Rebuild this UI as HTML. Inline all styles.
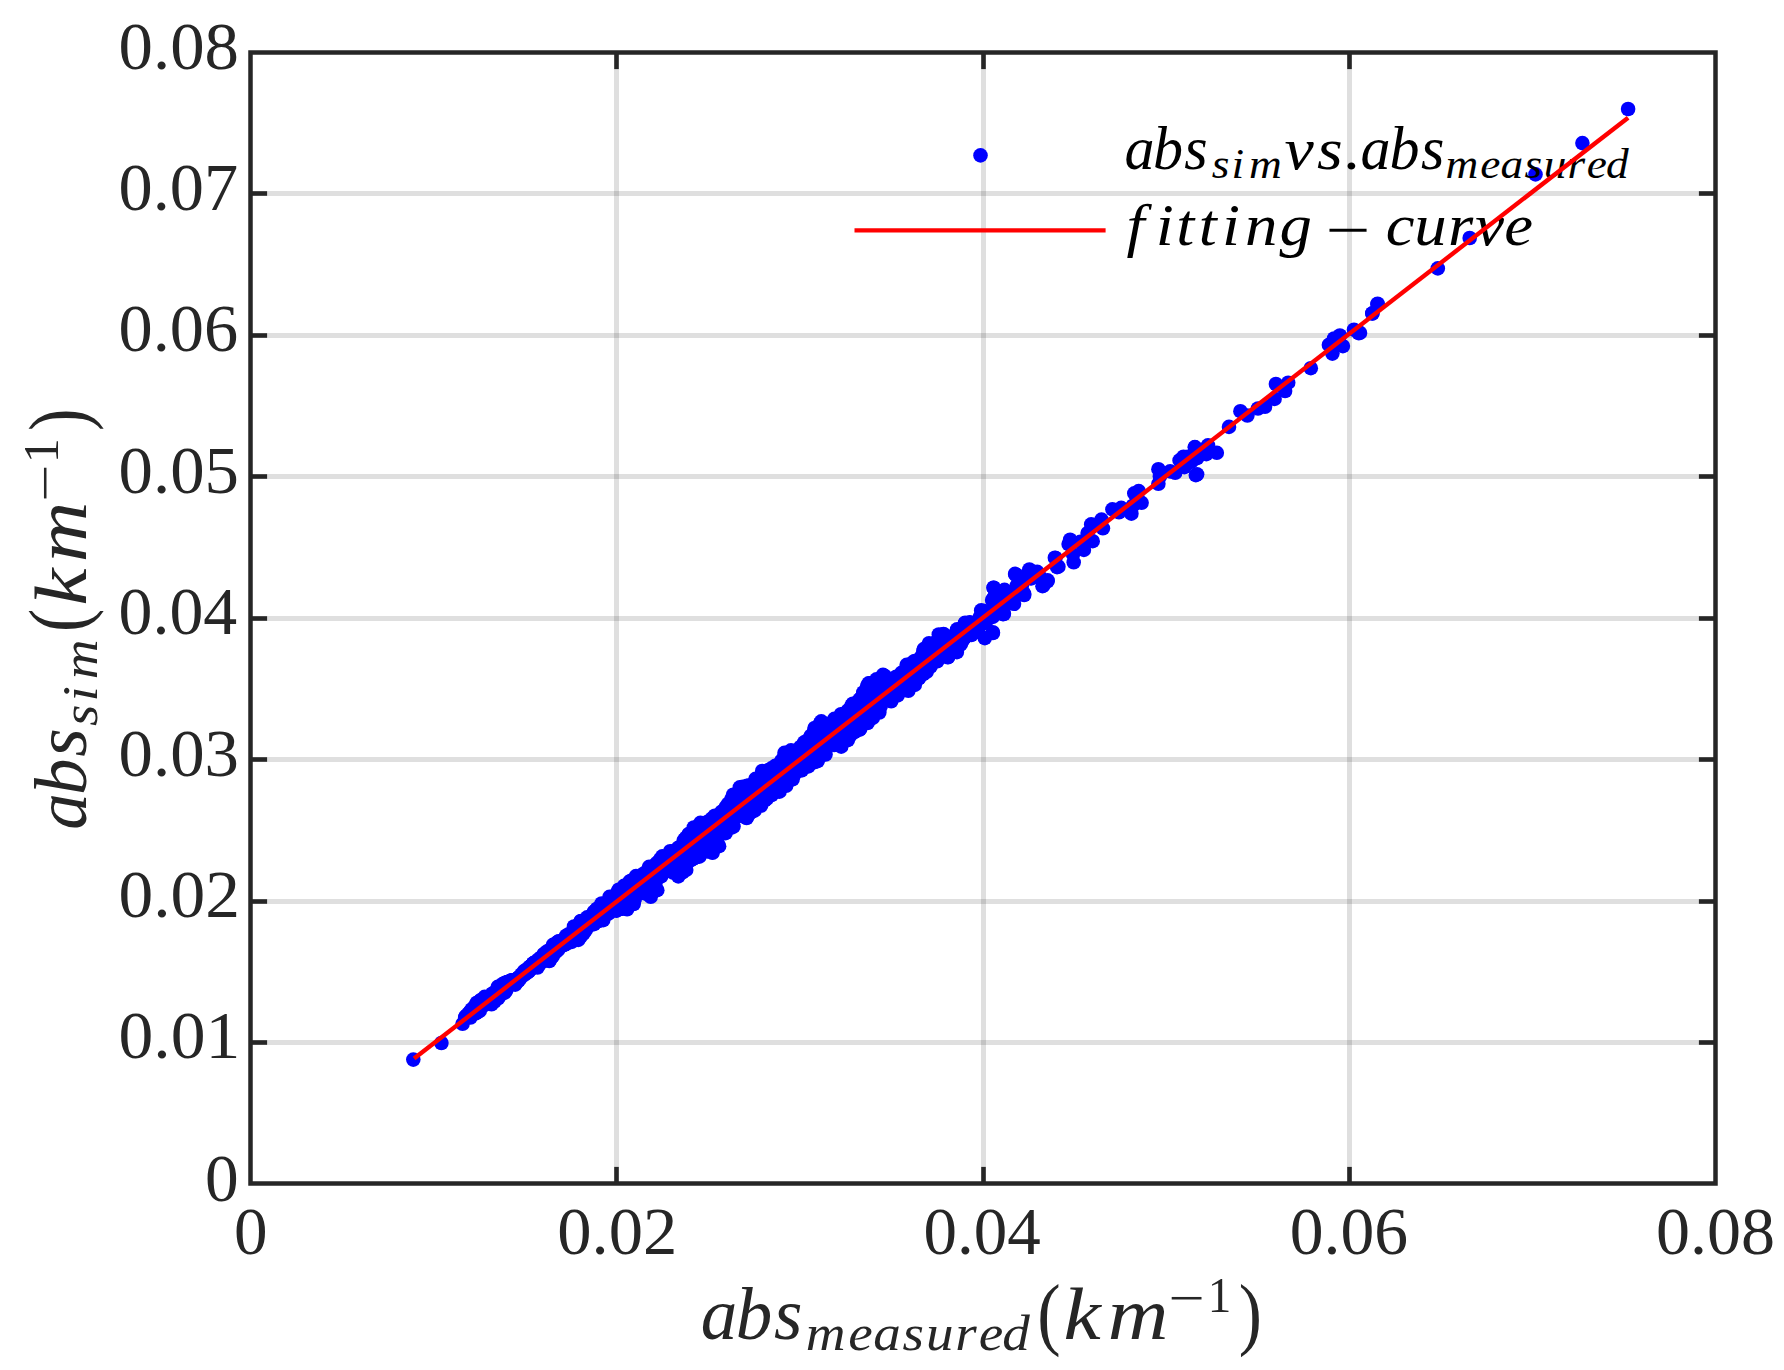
<!DOCTYPE html>
<html lang="en"><head><meta charset="utf-8"><title>abs sim vs. abs measured</title>
<style>html,body{margin:0;padding:0;background:#fff;overflow:hidden}svg{display:block}</style></head>
<body>
<svg width="1784" height="1370" viewBox="0 0 1784 1370" font-family="'Liberation Serif', serif">
<rect width="1784" height="1370" fill="#fff"/>
<g stroke="#262626" stroke-opacity="0.15" stroke-width="5"><line x1="616.5" y1="52.5" x2="616.5" y2="1183.5"/><line x1="983.5" y1="52.5" x2="983.5" y2="1183.5"/><line x1="1349.5" y1="52.5" x2="1349.5" y2="1183.5"/><line x1="250.5" y1="1042.5" x2="1715.5" y2="1042.5"/><line x1="250.5" y1="901.5" x2="1715.5" y2="901.5"/><line x1="250.5" y1="759.5" x2="1715.5" y2="759.5"/><line x1="250.5" y1="618.5" x2="1715.5" y2="618.5"/><line x1="250.5" y1="476.5" x2="1715.5" y2="476.5"/><line x1="250.5" y1="335.5" x2="1715.5" y2="335.5"/><line x1="250.5" y1="193.5" x2="1715.5" y2="193.5"/></g>
<g fill="#0000ff"><circle cx="1002.9" cy="614.2" r="7.3"/><circle cx="1003.6" cy="591.5" r="7.3"/><circle cx="1012.4" cy="603.2" r="7.3"/><circle cx="1016.1" cy="574.7" r="7.3"/><circle cx="1024.1" cy="593.7" r="7.3"/><circle cx="1021.9" cy="585.7" r="7.3"/><circle cx="1029.9" cy="571.8" r="7.3"/><circle cx="1037.2" cy="571.8" r="7.3"/><circle cx="1031.4" cy="578.4" r="7.3"/><circle cx="1043.1" cy="585.7" r="7.3"/><circle cx="1047.4" cy="581.3" r="7.3"/><circle cx="1055.5" cy="558.0" r="7.3"/><circle cx="1058.4" cy="566.7" r="7.3"/><circle cx="1070.1" cy="539.7" r="7.3"/><circle cx="1068.6" cy="544.1" r="7.3"/><circle cx="1073.7" cy="562.3" r="7.3"/><circle cx="1073.0" cy="554.3" r="7.3"/><circle cx="1083.9" cy="549.9" r="7.3"/><circle cx="1087.6" cy="533.1" r="7.3"/><circle cx="1091.2" cy="524.4" r="7.3"/><circle cx="1092.7" cy="541.2" r="7.3"/><circle cx="1080.3" cy="541.9" r="7.3"/><circle cx="1102.9" cy="528.3" r="7.3"/><circle cx="1101.5" cy="519.6" r="7.3"/><circle cx="1112.4" cy="509.3" r="7.3"/><circle cx="1121.2" cy="507.9" r="7.3"/><circle cx="1119.0" cy="512.3" r="7.3"/><circle cx="1131.4" cy="513.7" r="7.3"/><circle cx="1134.3" cy="493.3" r="7.3"/><circle cx="1138.7" cy="491.1" r="7.3"/><circle cx="1141.6" cy="502.8" r="7.3"/><circle cx="1132.8" cy="505.7" r="7.3"/><circle cx="1158.4" cy="469.2" r="7.3"/><circle cx="1158.4" cy="483.8" r="7.3"/><circle cx="1159.9" cy="476.5" r="7.3"/><circle cx="1170.1" cy="471.4" r="7.3"/><circle cx="1175.2" cy="472.8" r="7.3"/><circle cx="1179.6" cy="460.4" r="7.3"/><circle cx="1183.9" cy="465.5" r="7.3"/><circle cx="1187.6" cy="456.8" r="7.3"/><circle cx="1194.9" cy="447.3" r="7.3"/><circle cx="1197.1" cy="474.3" r="7.3"/><circle cx="1197.1" cy="458.2" r="7.3"/><circle cx="1191.2" cy="461.9" r="7.3"/><circle cx="1183.5" cy="456.7" r="7.3"/><circle cx="1184.4" cy="467.2" r="7.3"/><circle cx="1194.9" cy="447.1" r="7.3"/><circle cx="1194.0" cy="457.6" r="7.3"/><circle cx="1208.0" cy="445.3" r="7.3"/><circle cx="1206.3" cy="454.1" r="7.3"/><circle cx="1216.8" cy="452.8" r="7.3"/><circle cx="1195.8" cy="475.1" r="7.3"/><circle cx="1229.0" cy="426.9" r="7.3"/><circle cx="1240.4" cy="411.2" r="7.3"/><circle cx="1247.4" cy="415.5" r="7.3"/><circle cx="1258.0" cy="408.5" r="7.3"/><circle cx="1265.0" cy="406.8" r="7.3"/><circle cx="1274.6" cy="398.9" r="7.3"/><circle cx="1275.9" cy="384.0" r="7.3"/><circle cx="1285.1" cy="391.0" r="7.3"/><circle cx="1288.2" cy="382.7" r="7.3"/><circle cx="1377.6" cy="303.7" r="7.3"/><circle cx="1372.4" cy="313.4" r="7.3"/><circle cx="1354.0" cy="329.7" r="7.3"/><circle cx="1358.6" cy="333.2" r="7.3"/><circle cx="1339.9" cy="335.5" r="7.3"/><circle cx="1334.1" cy="338.5" r="7.3"/><circle cx="1328.9" cy="344.9" r="7.3"/><circle cx="1342.9" cy="346.1" r="7.3"/><circle cx="1332.4" cy="353.6" r="7.3"/><circle cx="1310.8" cy="368.2" r="7.3"/><circle cx="993.6" cy="587.7" r="7.3"/><circle cx="992.1" cy="600.1" r="7.3"/><circle cx="981.9" cy="611.0" r="7.3"/><circle cx="1003.8" cy="592.0" r="7.3"/><circle cx="1000.9" cy="603.0" r="7.3"/><circle cx="1015.5" cy="574.5" r="7.3"/><circle cx="1016.9" cy="585.5" r="7.3"/><circle cx="1028.6" cy="572.3" r="7.3"/><circle cx="1036.6" cy="572.3" r="7.3"/><circle cx="1030.1" cy="578.2" r="7.3"/><circle cx="1023.5" cy="594.2" r="7.3"/><circle cx="1013.3" cy="603.0" r="7.3"/><circle cx="1003.8" cy="613.2" r="7.3"/><circle cx="992.8" cy="616.9" r="7.3"/><circle cx="981.9" cy="621.2" r="7.3"/><circle cx="965.1" cy="623.4" r="7.3"/><circle cx="974.6" cy="624.9" r="7.3"/><circle cx="1042.5" cy="586.2" r="7.3"/><circle cx="1047.6" cy="580.4" r="7.3"/><circle cx="1054.9" cy="557.7" r="7.3"/><circle cx="1057.1" cy="567.2" r="7.3"/><circle cx="992.8" cy="632.2" r="7.3"/><circle cx="1007.4" cy="597.2" r="7.3"/><circle cx="1022.0" cy="582.6" r="7.3"/><circle cx="1011.1" cy="592.8" r="7.3"/><circle cx="996.5" cy="608.8" r="7.3"/><circle cx="1040.3" cy="577.4" r="7.3"/><circle cx="1628.1" cy="109.0" r="7.3"/><circle cx="1582.4" cy="143.1" r="7.3"/><circle cx="1535.5" cy="174.4" r="7.3"/><circle cx="1469.7" cy="238.0" r="7.3"/><circle cx="1437.8" cy="268.4" r="7.3"/><circle cx="1377.5" cy="304.4" r="7.3"/><circle cx="1372.3" cy="313.5" r="7.3"/><circle cx="1360.0" cy="332.9" r="7.3"/><circle cx="413.3" cy="1059.6" r="7.3"/><circle cx="441.4" cy="1043.0" r="7.3"/><circle cx="462.6" cy="1023.8" r="7.3"/><circle cx="938.8" cy="634.5" r="7.3"/><circle cx="1015.1" cy="573.9" r="7.3"/><circle cx="993.6" cy="587.7" r="7.3"/><circle cx="1004.5" cy="589.9" r="7.3"/><circle cx="981.2" cy="610.4" r="7.3"/><circle cx="993.6" cy="598.0" r="7.3"/><circle cx="965.1" cy="622.8" r="7.3"/><circle cx="957.1" cy="629.3" r="7.3"/><circle cx="1003.8" cy="614.0" r="7.3"/><circle cx="992.9" cy="633.0" r="7.3"/><circle cx="984.8" cy="638.1" r="7.3"/><circle cx="1024.2" cy="595.0" r="7.3"/><circle cx="1014.0" cy="603.8" r="7.3"/><circle cx="1029.4" cy="569.5" r="7.3"/><circle cx="1020.6" cy="584.1" r="7.3"/><circle cx="998.7" cy="606.7" r="7.3"/><circle cx="973.9" cy="625.7" r="7.3"/><circle cx="466.3" cy="1015.9" r="7.3"/><circle cx="471.6" cy="1009.3" r="7.3"/><circle cx="476.8" cy="1002.7" r="7.3"/><circle cx="484.7" cy="996.8" r="7.3"/><circle cx="492.6" cy="993.5" r="7.3"/><circle cx="497.8" cy="986.9" r="7.3"/><circle cx="503.1" cy="983.7" r="7.3"/><circle cx="511.0" cy="980.4" r="7.3"/><circle cx="517.5" cy="978.4" r="7.3"/><circle cx="524.1" cy="971.2" r="7.3"/><circle cx="533.3" cy="963.3" r="7.3"/><circle cx="538.6" cy="959.4" r="7.3"/><circle cx="543.8" cy="954.1" r="7.3"/><circle cx="553.0" cy="944.9" r="7.3"/><circle cx="558.3" cy="941.6" r="7.3"/><circle cx="566.2" cy="935.7" r="7.3"/><circle cx="574.0" cy="926.5" r="7.3"/><circle cx="580.6" cy="921.2" r="7.3"/><circle cx="587.2" cy="917.3" r="7.3"/><circle cx="593.8" cy="912.0" r="7.3"/><circle cx="601.6" cy="903.5" r="7.3"/><circle cx="609.5" cy="896.9" r="7.3"/><circle cx="618.7" cy="889.7" r="7.3"/><circle cx="624.0" cy="885.8" r="7.3"/><circle cx="636.0" cy="876.1" r="7.3"/><circle cx="643.9" cy="873.5" r="7.3"/><circle cx="649.1" cy="866.9" r="7.3"/><circle cx="657.0" cy="863.0" r="7.3"/><circle cx="662.3" cy="856.4" r="7.3"/><circle cx="670.2" cy="851.2" r="7.3"/><circle cx="678.1" cy="847.9" r="7.3"/><circle cx="684.6" cy="839.4" r="7.3"/><circle cx="688.6" cy="834.1" r="7.3"/><circle cx="693.8" cy="827.5" r="7.3"/><circle cx="700.4" cy="822.9" r="7.3"/><circle cx="708.3" cy="821.6" r="7.3"/><circle cx="714.8" cy="815.7" r="7.3"/><circle cx="721.4" cy="811.8" r="7.3"/><circle cx="728.0" cy="803.9" r="7.3"/><circle cx="733.2" cy="794.7" r="7.3"/><circle cx="739.8" cy="787.4" r="7.3"/><circle cx="749.0" cy="785.5" r="7.3"/><circle cx="755.6" cy="778.9" r="7.3"/><circle cx="762.2" cy="771.0" r="7.3"/><circle cx="771.4" cy="768.4" r="7.3"/><circle cx="775.3" cy="765.8" r="7.3"/><circle cx="784.5" cy="752.9" r="7.3"/><circle cx="791.0" cy="750.3" r="7.3"/><circle cx="797.6" cy="750.3" r="7.3"/><circle cx="804.2" cy="742.4" r="7.3"/><circle cx="810.7" cy="735.9" r="7.3"/><circle cx="814.7" cy="728.0" r="7.3"/><circle cx="821.3" cy="721.4" r="7.3"/><circle cx="829.1" cy="724.0" r="7.3"/><circle cx="834.4" cy="718.8" r="7.3"/><circle cx="841.0" cy="714.2" r="7.3"/><circle cx="847.5" cy="710.9" r="7.3"/><circle cx="852.8" cy="703.7" r="7.3"/><circle cx="859.4" cy="699.7" r="7.3"/><circle cx="863.3" cy="692.5" r="7.3"/><circle cx="868.6" cy="683.3" r="7.3"/><circle cx="876.5" cy="679.4" r="7.3"/><circle cx="883.0" cy="674.8" r="7.3"/><circle cx="889.6" cy="679.4" r="7.3"/><circle cx="896.2" cy="676.7" r="7.3"/><circle cx="901.4" cy="672.8" r="7.3"/><circle cx="906.7" cy="664.9" r="7.3"/><circle cx="914.6" cy="661.0" r="7.3"/><circle cx="921.1" cy="657.0" r="7.3"/><circle cx="923.8" cy="649.1" r="7.3"/><circle cx="929.0" cy="643.2" r="7.3"/><circle cx="936.9" cy="641.2" r="7.3"/><circle cx="943.5" cy="634.0" r="7.3"/><circle cx="951.4" cy="637.3" r="7.3"/><circle cx="956.6" cy="632.0" r="7.3"/><circle cx="964.5" cy="624.2" r="7.3"/><circle cx="969.8" cy="622.2" r="7.3"/><circle cx="976.3" cy="625.5" r="7.3"/><circle cx="980.3" cy="616.3" r="7.3"/><circle cx="984.5" cy="611.0" r="7.3"/><circle cx="465.2" cy="1017.5" r="7.3"/><circle cx="470.5" cy="1017.5" r="7.3"/><circle cx="479.7" cy="1010.9" r="7.3"/><circle cx="483.6" cy="1005.6" r="7.3"/><circle cx="491.5" cy="1004.3" r="7.3"/><circle cx="498.1" cy="998.4" r="7.3"/><circle cx="504.7" cy="992.5" r="7.3"/><circle cx="508.6" cy="985.9" r="7.3"/><circle cx="515.2" cy="984.6" r="7.3"/><circle cx="520.4" cy="978.0" r="7.3"/><circle cx="527.0" cy="972.8" r="7.3"/><circle cx="537.5" cy="967.5" r="7.3"/><circle cx="542.8" cy="961.0" r="7.3"/><circle cx="549.3" cy="961.0" r="7.3"/><circle cx="555.9" cy="951.8" r="7.3"/><circle cx="563.8" cy="945.2" r="7.3"/><circle cx="571.7" cy="941.9" r="7.3"/><circle cx="578.3" cy="939.9" r="7.3"/><circle cx="583.5" cy="933.4" r="7.3"/><circle cx="588.8" cy="925.5" r="7.3"/><circle cx="594.0" cy="924.2" r="7.3"/><circle cx="603.2" cy="920.2" r="7.3"/><circle cx="608.5" cy="913.7" r="7.3"/><circle cx="616.4" cy="910.4" r="7.3"/><circle cx="616.6" cy="910.6" r="7.3"/><circle cx="627.1" cy="909.3" r="7.3"/><circle cx="633.6" cy="904.0" r="7.3"/><circle cx="635.0" cy="896.2" r="7.3"/><circle cx="645.5" cy="893.5" r="7.3"/><circle cx="650.7" cy="896.8" r="7.3"/><circle cx="657.3" cy="890.2" r="7.3"/><circle cx="654.7" cy="880.4" r="7.3"/><circle cx="661.2" cy="876.4" r="7.3"/><circle cx="669.1" cy="869.9" r="7.3"/><circle cx="673.1" cy="872.5" r="7.3"/><circle cx="678.3" cy="876.4" r="7.3"/><circle cx="686.2" cy="869.9" r="7.3"/><circle cx="690.1" cy="860.7" r="7.3"/><circle cx="699.3" cy="856.7" r="7.3"/><circle cx="707.2" cy="851.5" r="7.3"/><circle cx="712.5" cy="852.8" r="7.3"/><circle cx="719.1" cy="846.2" r="7.3"/><circle cx="717.7" cy="837.0" r="7.3"/><circle cx="725.6" cy="833.1" r="7.3"/><circle cx="733.5" cy="826.5" r="7.3"/><circle cx="738.8" cy="816.0" r="7.3"/><circle cx="746.6" cy="818.0" r="7.3"/><circle cx="754.5" cy="810.7" r="7.3"/><circle cx="761.1" cy="805.5" r="7.3"/><circle cx="765.0" cy="800.2" r="7.3"/><circle cx="771.6" cy="795.0" r="7.3"/><circle cx="779.5" cy="791.7" r="7.3"/><circle cx="786.1" cy="785.8" r="7.3"/><circle cx="801.8" cy="770.3" r="7.3"/><circle cx="808.4" cy="766.4" r="7.3"/><circle cx="817.6" cy="761.1" r="7.3"/><circle cx="825.5" cy="754.5" r="7.3"/><circle cx="828.1" cy="745.3" r="7.3"/><circle cx="841.2" cy="746.7" r="7.3"/><circle cx="847.8" cy="740.1" r="7.3"/><circle cx="854.4" cy="732.2" r="7.3"/><circle cx="859.6" cy="729.6" r="7.3"/><circle cx="867.5" cy="723.0" r="7.3"/><circle cx="872.8" cy="717.8" r="7.3"/><circle cx="879.3" cy="712.5" r="7.3"/><circle cx="880.7" cy="705.9" r="7.3"/><circle cx="887.2" cy="699.4" r="7.3"/><circle cx="891.2" cy="701.3" r="7.3"/><circle cx="897.7" cy="695.4" r="7.3"/><circle cx="901.7" cy="687.5" r="7.3"/><circle cx="908.3" cy="690.8" r="7.3"/><circle cx="914.8" cy="684.9" r="7.3"/><circle cx="912.2" cy="675.7" r="7.3"/><circle cx="918.8" cy="678.3" r="7.3"/><circle cx="926.6" cy="671.8" r="7.3"/><circle cx="930.6" cy="666.5" r="7.3"/><circle cx="937.2" cy="661.3" r="7.3"/><circle cx="938.5" cy="656.0" r="7.3"/><circle cx="947.7" cy="657.3" r="7.3"/><circle cx="956.9" cy="652.1" r="7.3"/><circle cx="960.8" cy="644.2" r="7.3"/><circle cx="963.4" cy="638.9" r="7.3"/><circle cx="971.3" cy="635.0" r="7.3"/><circle cx="975.5" cy="632.3" r="7.3"/><circle cx="465.9" cy="1016.9" r="7.3"/><circle cx="465.7" cy="1016.6" r="7.3"/><circle cx="466.2" cy="1017.3" r="7.3"/><circle cx="467.2" cy="1015.3" r="7.3"/><circle cx="467.8" cy="1016.1" r="7.3"/><circle cx="467.6" cy="1015.8" r="7.3"/><circle cx="468.6" cy="1013.8" r="7.3"/><circle cx="469.7" cy="1015.3" r="7.3"/><circle cx="468.5" cy="1013.7" r="7.3"/><circle cx="471.0" cy="1013.6" r="7.3"/><circle cx="469.9" cy="1012.2" r="7.3"/><circle cx="470.0" cy="1012.3" r="7.3"/><circle cx="472.4" cy="1012.2" r="7.3"/><circle cx="473.7" cy="1013.9" r="7.3"/><circle cx="471.4" cy="1010.9" r="7.3"/><circle cx="473.1" cy="1009.8" r="7.3"/><circle cx="474.6" cy="1011.7" r="7.3"/><circle cx="475.8" cy="1013.3" r="7.3"/><circle cx="475.9" cy="1010.2" r="7.3"/><circle cx="475.1" cy="1009.2" r="7.3"/><circle cx="477.5" cy="1012.2" r="7.3"/><circle cx="475.0" cy="1005.8" r="7.3"/><circle cx="478.6" cy="1010.4" r="7.3"/><circle cx="476.1" cy="1007.2" r="7.3"/><circle cx="476.8" cy="1004.8" r="7.3"/><circle cx="476.7" cy="1004.6" r="7.3"/><circle cx="477.5" cy="1005.8" r="7.3"/><circle cx="481.1" cy="1007.2" r="7.3"/><circle cx="478.2" cy="1003.4" r="7.3"/><circle cx="480.1" cy="1005.8" r="7.3"/><circle cx="481.7" cy="1004.6" r="7.3"/><circle cx="480.5" cy="1003.1" r="7.3"/><circle cx="481.3" cy="1004.1" r="7.3"/><circle cx="480.8" cy="1000.2" r="7.3"/><circle cx="480.8" cy="1000.2" r="7.3"/><circle cx="481.4" cy="1001.0" r="7.3"/><circle cx="485.3" cy="1002.8" r="7.3"/><circle cx="484.2" cy="1001.3" r="7.3"/><circle cx="483.6" cy="1000.6" r="7.3"/><circle cx="486.9" cy="1001.5" r="7.3"/><circle cx="486.2" cy="1000.6" r="7.3"/><circle cx="485.3" cy="999.5" r="7.3"/><circle cx="490.1" cy="1002.4" r="7.3"/><circle cx="489.5" cy="1001.6" r="7.3"/><circle cx="486.8" cy="998.2" r="7.3"/><circle cx="490.6" cy="999.8" r="7.3"/><circle cx="490.3" cy="999.4" r="7.3"/><circle cx="492.4" cy="1002.1" r="7.3"/><circle cx="493.1" cy="999.8" r="7.3"/><circle cx="490.7" cy="996.7" r="7.3"/><circle cx="494.5" cy="1001.5" r="7.3"/><circle cx="491.7" cy="994.7" r="7.3"/><circle cx="493.2" cy="996.6" r="7.3"/><circle cx="494.9" cy="998.8" r="7.3"/><circle cx="493.7" cy="994.0" r="7.3"/><circle cx="495.2" cy="996.0" r="7.3"/><circle cx="493.2" cy="993.3" r="7.3"/><circle cx="497.5" cy="995.6" r="7.3"/><circle cx="497.9" cy="996.2" r="7.3"/><circle cx="497.0" cy="995.1" r="7.3"/><circle cx="499.9" cy="995.5" r="7.3"/><circle cx="497.2" cy="992.0" r="7.3"/><circle cx="499.0" cy="994.4" r="7.3"/><circle cx="500.0" cy="992.3" r="7.3"/><circle cx="499.9" cy="992.2" r="7.3"/><circle cx="499.3" cy="991.4" r="7.3"/><circle cx="502.7" cy="992.5" r="7.3"/><circle cx="503.2" cy="993.2" r="7.3"/><circle cx="500.7" cy="990.0" r="7.3"/><circle cx="503.3" cy="990.0" r="7.3"/><circle cx="500.1" cy="986.0" r="7.3"/><circle cx="503.5" cy="990.3" r="7.3"/><circle cx="504.5" cy="988.4" r="7.3"/><circle cx="506.2" cy="990.5" r="7.3"/><circle cx="505.4" cy="989.5" r="7.3"/><circle cx="504.4" cy="985.0" r="7.3"/><circle cx="504.8" cy="985.5" r="7.3"/><circle cx="505.9" cy="987.0" r="7.3"/><circle cx="505.2" cy="982.7" r="7.3"/><circle cx="506.6" cy="984.6" r="7.3"/><circle cx="505.6" cy="983.3" r="7.3"/><circle cx="507.3" cy="982.2" r="7.3"/><circle cx="507.2" cy="982.0" r="7.3"/><circle cx="509.1" cy="984.5" r="7.3"/><circle cx="509.3" cy="981.5" r="7.3"/><circle cx="509.7" cy="982.0" r="7.3"/><circle cx="510.1" cy="982.5" r="7.3"/><circle cx="513.7" cy="983.9" r="7.3"/><circle cx="511.1" cy="980.6" r="7.3"/><circle cx="512.3" cy="982.1" r="7.3"/><circle cx="514.6" cy="981.9" r="7.3"/><circle cx="515.7" cy="983.3" r="7.3"/><circle cx="515.5" cy="983.0" r="7.3"/><circle cx="517.0" cy="981.7" r="7.3"/><circle cx="515.6" cy="979.8" r="7.3"/><circle cx="515.9" cy="980.3" r="7.3"/><circle cx="517.5" cy="979.1" r="7.3"/><circle cx="518.5" cy="980.3" r="7.3"/><circle cx="518.6" cy="980.5" r="7.3"/><circle cx="518.9" cy="977.6" r="7.3"/><circle cx="518.9" cy="977.6" r="7.3"/><circle cx="519.0" cy="977.7" r="7.3"/><circle cx="520.4" cy="976.2" r="7.3"/><circle cx="520.7" cy="976.6" r="7.3"/><circle cx="520.8" cy="976.7" r="7.3"/><circle cx="521.8" cy="974.8" r="7.3"/><circle cx="521.4" cy="974.3" r="7.3"/><circle cx="522.0" cy="975.1" r="7.3"/><circle cx="523.4" cy="973.6" r="7.3"/><circle cx="523.7" cy="974.0" r="7.3"/><circle cx="524.3" cy="974.8" r="7.3"/><circle cx="525.4" cy="972.9" r="7.3"/><circle cx="525.1" cy="972.5" r="7.3"/><circle cx="525.3" cy="972.8" r="7.3"/><circle cx="526.9" cy="971.6" r="7.3"/><circle cx="525.7" cy="970.1" r="7.3"/><circle cx="527.3" cy="972.1" r="7.3"/><circle cx="528.8" cy="970.8" r="7.3"/><circle cx="529.0" cy="971.1" r="7.3"/><circle cx="528.9" cy="970.9" r="7.3"/><circle cx="529.6" cy="968.6" r="7.3"/><circle cx="529.7" cy="968.6" r="7.3"/><circle cx="528.9" cy="967.7" r="7.3"/><circle cx="531.9" cy="968.3" r="7.3"/><circle cx="530.4" cy="966.3" r="7.3"/><circle cx="530.4" cy="966.3" r="7.3"/><circle cx="532.3" cy="965.6" r="7.3"/><circle cx="532.2" cy="965.4" r="7.3"/><circle cx="532.8" cy="966.1" r="7.3"/><circle cx="533.4" cy="963.7" r="7.3"/><circle cx="533.2" cy="963.4" r="7.3"/><circle cx="533.7" cy="964.1" r="7.3"/><circle cx="535.1" cy="962.6" r="7.3"/><circle cx="536.1" cy="963.9" r="7.3"/><circle cx="534.9" cy="962.3" r="7.3"/><circle cx="539.2" cy="964.6" r="7.3"/><circle cx="538.4" cy="963.6" r="7.3"/><circle cx="536.9" cy="961.6" r="7.3"/><circle cx="538.7" cy="960.7" r="7.3"/><circle cx="539.0" cy="961.1" r="7.3"/><circle cx="539.0" cy="961.2" r="7.3"/><circle cx="539.9" cy="958.9" r="7.3"/><circle cx="541.8" cy="961.4" r="7.3"/><circle cx="542.2" cy="961.9" r="7.3"/><circle cx="542.2" cy="958.7" r="7.3"/><circle cx="542.2" cy="958.7" r="7.3"/><circle cx="541.2" cy="957.4" r="7.3"/><circle cx="542.8" cy="956.2" r="7.3"/><circle cx="543.7" cy="957.3" r="7.3"/><circle cx="543.4" cy="957.0" r="7.3"/><circle cx="547.8" cy="959.4" r="7.3"/><circle cx="544.6" cy="955.3" r="7.3"/><circle cx="543.9" cy="954.4" r="7.3"/><circle cx="550.3" cy="959.3" r="7.3"/><circle cx="548.0" cy="956.4" r="7.3"/><circle cx="546.0" cy="953.8" r="7.3"/><circle cx="549.4" cy="955.0" r="7.3"/><circle cx="546.8" cy="951.6" r="7.3"/><circle cx="549.3" cy="954.9" r="7.3"/><circle cx="552.8" cy="956.1" r="7.3"/><circle cx="552.3" cy="955.4" r="7.3"/><circle cx="551.5" cy="954.4" r="7.3"/><circle cx="550.7" cy="950.1" r="7.3"/><circle cx="551.2" cy="950.8" r="7.3"/><circle cx="550.3" cy="949.6" r="7.3"/><circle cx="554.4" cy="951.6" r="7.3"/><circle cx="553.3" cy="950.2" r="7.3"/><circle cx="554.4" cy="951.6" r="7.3"/><circle cx="553.8" cy="947.5" r="7.3"/><circle cx="553.3" cy="946.9" r="7.3"/><circle cx="555.8" cy="950.2" r="7.3"/><circle cx="558.1" cy="949.8" r="7.3"/><circle cx="557.5" cy="949.1" r="7.3"/><circle cx="557.3" cy="948.8" r="7.3"/><circle cx="558.9" cy="947.7" r="7.3"/><circle cx="558.6" cy="947.2" r="7.3"/><circle cx="556.5" cy="944.5" r="7.3"/><circle cx="559.3" cy="944.9" r="7.3"/><circle cx="558.6" cy="944.0" r="7.3"/><circle cx="557.3" cy="942.3" r="7.3"/><circle cx="559.0" cy="941.3" r="7.3"/><circle cx="560.0" cy="942.5" r="7.3"/><circle cx="559.9" cy="942.4" r="7.3"/><circle cx="563.1" cy="943.3" r="7.3"/><circle cx="564.1" cy="944.6" r="7.3"/><circle cx="562.2" cy="942.1" r="7.3"/><circle cx="565.9" cy="943.7" r="7.3"/><circle cx="566.1" cy="943.9" r="7.3"/><circle cx="566.0" cy="943.8" r="7.3"/><circle cx="565.3" cy="939.6" r="7.3"/><circle cx="564.7" cy="938.8" r="7.3"/><circle cx="564.7" cy="938.8" r="7.3"/><circle cx="566.2" cy="937.5" r="7.3"/><circle cx="566.3" cy="937.6" r="7.3"/><circle cx="568.2" cy="940.1" r="7.3"/><circle cx="571.4" cy="940.9" r="7.3"/><circle cx="571.1" cy="940.6" r="7.3"/><circle cx="569.3" cy="938.2" r="7.3"/><circle cx="572.0" cy="938.4" r="7.3"/><circle cx="572.8" cy="939.5" r="7.3"/><circle cx="568.7" cy="934.2" r="7.3"/><circle cx="573.8" cy="937.5" r="7.3"/><circle cx="575.4" cy="939.6" r="7.3"/><circle cx="574.6" cy="938.5" r="7.3"/><circle cx="576.3" cy="937.4" r="7.3"/><circle cx="574.3" cy="934.9" r="7.3"/><circle cx="572.2" cy="932.1" r="7.3"/><circle cx="578.1" cy="936.5" r="7.3"/><circle cx="574.7" cy="932.1" r="7.3"/><circle cx="578.1" cy="936.6" r="7.3"/><circle cx="580.7" cy="936.6" r="7.3"/><circle cx="576.4" cy="931.1" r="7.3"/><circle cx="576.5" cy="931.2" r="7.3"/><circle cx="581.8" cy="934.8" r="7.3"/><circle cx="580.2" cy="932.7" r="7.3"/><circle cx="576.1" cy="927.4" r="7.3"/><circle cx="577.3" cy="925.8" r="7.3"/><circle cx="577.5" cy="926.0" r="7.3"/><circle cx="582.8" cy="932.8" r="7.3"/><circle cx="583.4" cy="930.3" r="7.3"/><circle cx="579.0" cy="924.6" r="7.3"/><circle cx="583.5" cy="930.5" r="7.3"/><circle cx="585.7" cy="930.1" r="7.3"/><circle cx="583.7" cy="927.4" r="7.3"/><circle cx="581.8" cy="924.9" r="7.3"/><circle cx="584.4" cy="925.0" r="7.3"/><circle cx="581.9" cy="921.9" r="7.3"/><circle cx="581.2" cy="921.0" r="7.3"/><circle cx="588.0" cy="926.5" r="7.3"/><circle cx="586.3" cy="924.3" r="7.3"/><circle cx="585.7" cy="923.4" r="7.3"/><circle cx="589.1" cy="924.6" r="7.3"/><circle cx="586.7" cy="921.5" r="7.3"/><circle cx="588.8" cy="924.2" r="7.3"/><circle cx="590.6" cy="923.3" r="7.3"/><circle cx="587.4" cy="919.2" r="7.3"/><circle cx="587.6" cy="919.4" r="7.3"/><circle cx="589.7" cy="918.8" r="7.3"/><circle cx="589.4" cy="918.4" r="7.3"/><circle cx="591.3" cy="921.0" r="7.3"/><circle cx="591.1" cy="917.5" r="7.3"/><circle cx="592.1" cy="918.7" r="7.3"/><circle cx="590.4" cy="916.5" r="7.3"/><circle cx="597.0" cy="921.7" r="7.3"/><circle cx="593.4" cy="917.1" r="7.3"/><circle cx="594.1" cy="918.0" r="7.3"/><circle cx="596.6" cy="918.0" r="7.3"/><circle cx="598.8" cy="920.8" r="7.3"/><circle cx="595.5" cy="916.6" r="7.3"/><circle cx="600.8" cy="920.1" r="7.3"/><circle cx="597.8" cy="916.3" r="7.3"/><circle cx="598.0" cy="916.5" r="7.3"/><circle cx="599.6" cy="915.3" r="7.3"/><circle cx="595.8" cy="910.4" r="7.3"/><circle cx="599.0" cy="914.5" r="7.3"/><circle cx="598.4" cy="910.5" r="7.3"/><circle cx="597.0" cy="908.7" r="7.3"/><circle cx="603.1" cy="916.6" r="7.3"/><circle cx="599.7" cy="908.9" r="7.3"/><circle cx="602.0" cy="911.9" r="7.3"/><circle cx="603.9" cy="914.3" r="7.3"/><circle cx="603.9" cy="911.1" r="7.3"/><circle cx="602.2" cy="908.9" r="7.3"/><circle cx="603.6" cy="910.7" r="7.3"/><circle cx="605.2" cy="909.5" r="7.3"/><circle cx="606.9" cy="911.7" r="7.3"/><circle cx="601.9" cy="905.2" r="7.3"/><circle cx="606.9" cy="908.4" r="7.3"/><circle cx="604.5" cy="905.3" r="7.3"/><circle cx="604.7" cy="905.5" r="7.3"/><circle cx="610.3" cy="909.6" r="7.3"/><circle cx="608.2" cy="906.8" r="7.3"/><circle cx="608.6" cy="907.4" r="7.3"/><circle cx="612.0" cy="908.5" r="7.3"/><circle cx="613.3" cy="910.2" r="7.3"/><circle cx="609.4" cy="905.1" r="7.3"/><circle cx="612.6" cy="905.9" r="7.3"/><circle cx="611.6" cy="904.7" r="7.3"/><circle cx="611.7" cy="904.8" r="7.3"/><circle cx="615.3" cy="906.3" r="7.3"/><circle cx="613.0" cy="903.3" r="7.3"/><circle cx="613.8" cy="904.3" r="7.3"/><circle cx="615.2" cy="902.8" r="7.3"/><circle cx="620.0" cy="909.0" r="7.3"/><circle cx="617.5" cy="905.7" r="7.3"/><circle cx="621.5" cy="907.7" r="7.3"/><circle cx="622.3" cy="908.7" r="7.3"/><circle cx="614.7" cy="898.9" r="7.3"/><circle cx="620.0" cy="902.5" r="7.3"/><circle cx="624.5" cy="908.3" r="7.3"/><circle cx="623.3" cy="906.7" r="7.3"/><circle cx="616.7" cy="894.9" r="7.3"/><circle cx="616.5" cy="894.7" r="7.3"/><circle cx="620.5" cy="899.9" r="7.3"/><circle cx="617.4" cy="892.6" r="7.3"/><circle cx="619.5" cy="895.4" r="7.3"/><circle cx="617.4" cy="892.6" r="7.3"/><circle cx="626.5" cy="901.1" r="7.3"/><circle cx="627.9" cy="902.9" r="7.3"/><circle cx="629.3" cy="904.8" r="7.3"/><circle cx="621.6" cy="891.5" r="7.3"/><circle cx="628.6" cy="900.6" r="7.3"/><circle cx="627.9" cy="899.7" r="7.3"/><circle cx="623.1" cy="890.1" r="7.3"/><circle cx="632.3" cy="902.0" r="7.3"/><circle cx="633.4" cy="903.4" r="7.3"/><circle cx="625.4" cy="889.9" r="7.3"/><circle cx="633.9" cy="900.9" r="7.3"/><circle cx="627.5" cy="892.6" r="7.3"/><circle cx="629.6" cy="892.0" r="7.3"/><circle cx="634.8" cy="898.7" r="7.3"/><circle cx="633.2" cy="896.6" r="7.3"/><circle cx="627.5" cy="886.1" r="7.3"/><circle cx="630.1" cy="889.4" r="7.3"/><circle cx="630.8" cy="890.4" r="7.3"/><circle cx="630.9" cy="887.1" r="7.3"/><circle cx="629.5" cy="885.3" r="7.3"/><circle cx="630.7" cy="886.9" r="7.3"/><circle cx="636.5" cy="891.1" r="7.3"/><circle cx="629.3" cy="881.9" r="7.3"/><circle cx="634.8" cy="888.9" r="7.3"/><circle cx="635.4" cy="886.5" r="7.3"/><circle cx="630.9" cy="880.7" r="7.3"/><circle cx="634.3" cy="885.0" r="7.3"/><circle cx="639.3" cy="888.3" r="7.3"/><circle cx="638.1" cy="886.6" r="7.3"/><circle cx="633.0" cy="880.1" r="7.3"/><circle cx="645.5" cy="893.0" r="7.3"/><circle cx="643.2" cy="890.0" r="7.3"/><circle cx="645.3" cy="892.8" r="7.3"/><circle cx="637.0" cy="878.7" r="7.3"/><circle cx="639.3" cy="881.8" r="7.3"/><circle cx="636.0" cy="877.4" r="7.3"/><circle cx="649.0" cy="890.9" r="7.3"/><circle cx="641.2" cy="880.9" r="7.3"/><circle cx="639.1" cy="878.1" r="7.3"/><circle cx="645.3" cy="882.9" r="7.3"/><circle cx="652.5" cy="892.2" r="7.3"/><circle cx="651.1" cy="890.4" r="7.3"/><circle cx="644.7" cy="879.0" r="7.3"/><circle cx="643.2" cy="877.0" r="7.3"/><circle cx="654.0" cy="891.0" r="7.3"/><circle cx="650.8" cy="883.5" r="7.3"/><circle cx="652.6" cy="885.8" r="7.3"/><circle cx="644.3" cy="875.1" r="7.3"/><circle cx="645.6" cy="873.5" r="7.3"/><circle cx="653.5" cy="883.8" r="7.3"/><circle cx="650.2" cy="879.5" r="7.3"/><circle cx="646.9" cy="871.9" r="7.3"/><circle cx="655.5" cy="883.1" r="7.3"/><circle cx="652.5" cy="879.1" r="7.3"/><circle cx="653.9" cy="877.7" r="7.3"/><circle cx="648.1" cy="870.2" r="7.3"/><circle cx="654.3" cy="878.3" r="7.3"/><circle cx="649.3" cy="868.5" r="7.3"/><circle cx="656.1" cy="877.2" r="7.3"/><circle cx="652.6" cy="872.7" r="7.3"/><circle cx="653.1" cy="870.2" r="7.3"/><circle cx="655.0" cy="872.6" r="7.3"/><circle cx="658.3" cy="876.9" r="7.3"/><circle cx="654.3" cy="868.4" r="7.3"/><circle cx="653.1" cy="866.9" r="7.3"/><circle cx="656.6" cy="871.4" r="7.3"/><circle cx="655.8" cy="867.1" r="7.3"/><circle cx="654.7" cy="865.7" r="7.3"/><circle cx="655.2" cy="866.3" r="7.3"/><circle cx="656.0" cy="864.1" r="7.3"/><circle cx="657.3" cy="865.8" r="7.3"/><circle cx="658.2" cy="866.9" r="7.3"/><circle cx="659.9" cy="865.8" r="7.3"/><circle cx="663.5" cy="870.5" r="7.3"/><circle cx="659.7" cy="865.7" r="7.3"/><circle cx="662.8" cy="866.4" r="7.3"/><circle cx="660.2" cy="863.0" r="7.3"/><circle cx="661.6" cy="864.8" r="7.3"/><circle cx="660.2" cy="859.7" r="7.3"/><circle cx="662.1" cy="862.2" r="7.3"/><circle cx="660.1" cy="859.7" r="7.3"/><circle cx="668.5" cy="867.2" r="7.3"/><circle cx="666.7" cy="864.9" r="7.3"/><circle cx="663.2" cy="860.3" r="7.3"/><circle cx="669.3" cy="865.0" r="7.3"/><circle cx="675.9" cy="873.4" r="7.3"/><circle cx="664.1" cy="858.2" r="7.3"/><circle cx="677.0" cy="871.6" r="7.3"/><circle cx="670.9" cy="863.8" r="7.3"/><circle cx="671.9" cy="865.1" r="7.3"/><circle cx="678.8" cy="870.6" r="7.3"/><circle cx="671.9" cy="861.8" r="7.3"/><circle cx="673.7" cy="864.1" r="7.3"/><circle cx="678.1" cy="866.5" r="7.3"/><circle cx="682.6" cy="872.3" r="7.3"/><circle cx="672.8" cy="859.7" r="7.3"/><circle cx="681.8" cy="868.1" r="7.3"/><circle cx="679.9" cy="865.6" r="7.3"/><circle cx="678.9" cy="864.2" r="7.3"/><circle cx="677.0" cy="858.6" r="7.3"/><circle cx="676.1" cy="857.5" r="7.3"/><circle cx="671.7" cy="851.8" r="7.3"/><circle cx="674.7" cy="852.3" r="7.3"/><circle cx="673.8" cy="851.2" r="7.3"/><circle cx="683.4" cy="863.6" r="7.3"/><circle cx="678.1" cy="853.5" r="7.3"/><circle cx="676.9" cy="851.9" r="7.3"/><circle cx="675.9" cy="850.6" r="7.3"/><circle cx="687.0" cy="861.6" r="7.3"/><circle cx="687.3" cy="862.1" r="7.3"/><circle cx="684.9" cy="858.9" r="7.3"/><circle cx="681.7" cy="851.6" r="7.3"/><circle cx="681.3" cy="851.0" r="7.3"/><circle cx="681.8" cy="851.8" r="7.3"/><circle cx="684.9" cy="852.4" r="7.3"/><circle cx="681.5" cy="848.1" r="7.3"/><circle cx="684.7" cy="852.3" r="7.3"/><circle cx="684.1" cy="848.2" r="7.3"/><circle cx="692.3" cy="858.8" r="7.3"/><circle cx="692.5" cy="859.0" r="7.3"/><circle cx="689.1" cy="851.3" r="7.3"/><circle cx="685.3" cy="846.5" r="7.3"/><circle cx="694.3" cy="858.0" r="7.3"/><circle cx="687.6" cy="846.2" r="7.3"/><circle cx="688.2" cy="846.9" r="7.3"/><circle cx="683.6" cy="841.0" r="7.3"/><circle cx="690.0" cy="846.0" r="7.3"/><circle cx="691.3" cy="847.7" r="7.3"/><circle cx="691.7" cy="848.2" r="7.3"/><circle cx="688.9" cy="841.3" r="7.3"/><circle cx="693.3" cy="846.9" r="7.3"/><circle cx="686.1" cy="837.7" r="7.3"/><circle cx="691.2" cy="841.0" r="7.3"/><circle cx="688.6" cy="837.7" r="7.3"/><circle cx="693.2" cy="843.6" r="7.3"/><circle cx="689.2" cy="835.2" r="7.3"/><circle cx="688.9" cy="834.8" r="7.3"/><circle cx="693.2" cy="840.3" r="7.3"/><circle cx="693.4" cy="837.4" r="7.3"/><circle cx="698.9" cy="844.4" r="7.3"/><circle cx="698.0" cy="843.3" r="7.3"/><circle cx="703.0" cy="846.5" r="7.3"/><circle cx="701.5" cy="844.6" r="7.3"/><circle cx="702.5" cy="845.8" r="7.3"/><circle cx="707.5" cy="849.0" r="7.3"/><circle cx="699.1" cy="838.1" r="7.3"/><circle cx="698.0" cy="836.7" r="7.3"/><circle cx="712.4" cy="852.1" r="7.3"/><circle cx="696.5" cy="831.6" r="7.3"/><circle cx="707.4" cy="845.7" r="7.3"/><circle cx="707.4" cy="842.4" r="7.3"/><circle cx="696.0" cy="827.6" r="7.3"/><circle cx="711.1" cy="847.1" r="7.3"/><circle cx="713.6" cy="847.1" r="7.3"/><circle cx="708.6" cy="840.6" r="7.3"/><circle cx="710.6" cy="843.2" r="7.3"/><circle cx="713.6" cy="843.8" r="7.3"/><circle cx="701.1" cy="827.6" r="7.3"/><circle cx="708.2" cy="836.8" r="7.3"/><circle cx="709.4" cy="835.1" r="7.3"/><circle cx="715.4" cy="842.9" r="7.3"/><circle cx="714.9" cy="842.2" r="7.3"/><circle cx="716.2" cy="840.7" r="7.3"/><circle cx="712.1" cy="835.3" r="7.3"/><circle cx="717.4" cy="842.2" r="7.3"/><circle cx="714.1" cy="834.7" r="7.3"/><circle cx="714.3" cy="834.9" r="7.3"/><circle cx="707.6" cy="826.3" r="7.3"/><circle cx="706.9" cy="822.2" r="7.3"/><circle cx="708.1" cy="823.7" r="7.3"/><circle cx="710.8" cy="827.1" r="7.3"/><circle cx="709.9" cy="822.8" r="7.3"/><circle cx="718.2" cy="833.4" r="7.3"/><circle cx="715.0" cy="829.4" r="7.3"/><circle cx="717.5" cy="829.3" r="7.3"/><circle cx="717.5" cy="829.3" r="7.3"/><circle cx="718.1" cy="830.1" r="7.3"/><circle cx="717.6" cy="826.1" r="7.3"/><circle cx="711.8" cy="818.6" r="7.3"/><circle cx="721.2" cy="830.8" r="7.3"/><circle cx="722.4" cy="829.1" r="7.3"/><circle cx="719.4" cy="825.2" r="7.3"/><circle cx="719.8" cy="825.7" r="7.3"/><circle cx="722.9" cy="826.4" r="7.3"/><circle cx="715.5" cy="816.9" r="7.3"/><circle cx="723.8" cy="827.6" r="7.3"/><circle cx="719.5" cy="818.7" r="7.3"/><circle cx="717.3" cy="815.9" r="7.3"/><circle cx="719.6" cy="818.9" r="7.3"/><circle cx="726.9" cy="825.1" r="7.3"/><circle cx="720.6" cy="816.9" r="7.3"/><circle cx="727.0" cy="825.2" r="7.3"/><circle cx="731.4" cy="827.6" r="7.3"/><circle cx="725.7" cy="820.2" r="7.3"/><circle cx="724.4" cy="818.5" r="7.3"/><circle cx="727.1" cy="818.9" r="7.3"/><circle cx="729.5" cy="822.0" r="7.3"/><circle cx="730.5" cy="823.2" r="7.3"/><circle cx="730.0" cy="819.3" r="7.3"/><circle cx="730.3" cy="819.7" r="7.3"/><circle cx="723.8" cy="811.3" r="7.3"/><circle cx="725.9" cy="810.7" r="7.3"/><circle cx="727.1" cy="812.2" r="7.3"/><circle cx="732.6" cy="819.3" r="7.3"/><circle cx="728.8" cy="811.3" r="7.3"/><circle cx="731.7" cy="815.0" r="7.3"/><circle cx="725.7" cy="807.2" r="7.3"/><circle cx="727.5" cy="806.2" r="7.3"/><circle cx="729.7" cy="809.1" r="7.3"/><circle cx="733.9" cy="814.6" r="7.3"/><circle cx="735.3" cy="813.0" r="7.3"/><circle cx="735.1" cy="812.8" r="7.3"/><circle cx="731.1" cy="807.7" r="7.3"/><circle cx="734.8" cy="809.2" r="7.3"/><circle cx="734.3" cy="808.5" r="7.3"/><circle cx="734.3" cy="808.5" r="7.3"/><circle cx="731.9" cy="802.1" r="7.3"/><circle cx="741.8" cy="815.0" r="7.3"/><circle cx="732.9" cy="803.4" r="7.3"/><circle cx="746.0" cy="817.1" r="7.3"/><circle cx="745.4" cy="816.3" r="7.3"/><circle cx="731.7" cy="798.6" r="7.3"/><circle cx="739.7" cy="805.7" r="7.3"/><circle cx="745.3" cy="813.0" r="7.3"/><circle cx="747.6" cy="816.0" r="7.3"/><circle cx="740.8" cy="803.8" r="7.3"/><circle cx="737.9" cy="800.1" r="7.3"/><circle cx="736.9" cy="798.9" r="7.3"/><circle cx="750.2" cy="812.8" r="7.3"/><circle cx="738.3" cy="797.4" r="7.3"/><circle cx="744.3" cy="805.1" r="7.3"/><circle cx="738.6" cy="794.5" r="7.3"/><circle cx="744.8" cy="802.5" r="7.3"/><circle cx="751.8" cy="811.6" r="7.3"/><circle cx="739.8" cy="792.8" r="7.3"/><circle cx="751.1" cy="807.4" r="7.3"/><circle cx="746.0" cy="800.8" r="7.3"/><circle cx="753.7" cy="807.5" r="7.3"/><circle cx="750.7" cy="803.5" r="7.3"/><circle cx="742.8" cy="793.4" r="7.3"/><circle cx="755.4" cy="806.4" r="7.3"/><circle cx="748.6" cy="797.6" r="7.3"/><circle cx="740.9" cy="787.7" r="7.3"/><circle cx="742.7" cy="786.8" r="7.3"/><circle cx="750.5" cy="796.9" r="7.3"/><circle cx="749.9" cy="796.0" r="7.3"/><circle cx="749.5" cy="792.2" r="7.3"/><circle cx="747.0" cy="789.0" r="7.3"/><circle cx="750.1" cy="793.1" r="7.3"/><circle cx="751.7" cy="791.8" r="7.3"/><circle cx="759.4" cy="801.7" r="7.3"/><circle cx="747.0" cy="785.8" r="7.3"/><circle cx="759.5" cy="798.7" r="7.3"/><circle cx="760.8" cy="800.3" r="7.3"/><circle cx="750.8" cy="787.4" r="7.3"/><circle cx="763.2" cy="800.2" r="7.3"/><circle cx="760.3" cy="796.4" r="7.3"/><circle cx="762.9" cy="799.7" r="7.3"/><circle cx="756.0" cy="787.5" r="7.3"/><circle cx="757.1" cy="789.0" r="7.3"/><circle cx="757.3" cy="789.3" r="7.3"/><circle cx="767.0" cy="798.6" r="7.3"/><circle cx="761.5" cy="791.4" r="7.3"/><circle cx="758.4" cy="787.4" r="7.3"/><circle cx="760.8" cy="787.2" r="7.3"/><circle cx="758.7" cy="784.5" r="7.3"/><circle cx="755.6" cy="780.5" r="7.3"/><circle cx="757.7" cy="780.0" r="7.3"/><circle cx="767.9" cy="793.1" r="7.3"/><circle cx="760.3" cy="783.3" r="7.3"/><circle cx="770.8" cy="793.7" r="7.3"/><circle cx="761.1" cy="781.2" r="7.3"/><circle cx="761.4" cy="781.5" r="7.3"/><circle cx="766.4" cy="784.7" r="7.3"/><circle cx="761.7" cy="778.6" r="7.3"/><circle cx="764.4" cy="782.1" r="7.3"/><circle cx="774.9" cy="792.4" r="7.3"/><circle cx="773.8" cy="790.9" r="7.3"/><circle cx="772.7" cy="789.5" r="7.3"/><circle cx="771.6" cy="784.8" r="7.3"/><circle cx="776.1" cy="790.6" r="7.3"/><circle cx="776.5" cy="791.2" r="7.3"/><circle cx="772.0" cy="782.2" r="7.3"/><circle cx="774.8" cy="785.7" r="7.3"/><circle cx="763.9" cy="771.7" r="7.3"/><circle cx="776.7" cy="785.0" r="7.3"/><circle cx="772.3" cy="779.2" r="7.3"/><circle cx="777.0" cy="785.4" r="7.3"/><circle cx="777.0" cy="782.1" r="7.3"/><circle cx="771.6" cy="775.1" r="7.3"/><circle cx="768.0" cy="770.4" r="7.3"/><circle cx="782.8" cy="786.3" r="7.3"/><circle cx="771.2" cy="771.3" r="7.3"/><circle cx="776.2" cy="777.8" r="7.3"/><circle cx="776.2" cy="774.5" r="7.3"/><circle cx="775.6" cy="773.7" r="7.3"/><circle cx="781.7" cy="781.7" r="7.3"/><circle cx="786.5" cy="784.6" r="7.3"/><circle cx="776.7" cy="771.9" r="7.3"/><circle cx="782.1" cy="778.9" r="7.3"/><circle cx="778.8" cy="771.4" r="7.3"/><circle cx="782.3" cy="775.9" r="7.3"/><circle cx="780.1" cy="773.0" r="7.3"/><circle cx="778.5" cy="767.6" r="7.3"/><circle cx="778.4" cy="767.5" r="7.3"/><circle cx="779.0" cy="768.3" r="7.3"/><circle cx="789.9" cy="779.1" r="7.3"/><circle cx="784.3" cy="771.8" r="7.3"/><circle cx="780.4" cy="766.9" r="7.3"/><circle cx="791.3" cy="777.7" r="7.3"/><circle cx="792.6" cy="779.3" r="7.3"/><circle cx="784.9" cy="769.4" r="7.3"/><circle cx="781.8" cy="762.2" r="7.3"/><circle cx="782.6" cy="763.1" r="7.3"/><circle cx="781.1" cy="761.3" r="7.3"/><circle cx="786.0" cy="764.3" r="7.3"/><circle cx="782.4" cy="759.6" r="7.3"/><circle cx="784.5" cy="762.4" r="7.3"/><circle cx="786.1" cy="761.1" r="7.3"/><circle cx="790.6" cy="767.0" r="7.3"/><circle cx="795.3" cy="773.0" r="7.3"/><circle cx="794.6" cy="768.9" r="7.3"/><circle cx="789.6" cy="762.5" r="7.3"/><circle cx="789.6" cy="762.5" r="7.3"/><circle cx="792.6" cy="763.0" r="7.3"/><circle cx="790.4" cy="760.2" r="7.3"/><circle cx="789.8" cy="759.4" r="7.3"/><circle cx="787.5" cy="753.2" r="7.3"/><circle cx="790.7" cy="757.3" r="7.3"/><circle cx="800.8" cy="770.3" r="7.3"/><circle cx="790.3" cy="753.6" r="7.3"/><circle cx="795.7" cy="760.5" r="7.3"/><circle cx="797.5" cy="762.8" r="7.3"/><circle cx="802.6" cy="766.1" r="7.3"/><circle cx="793.5" cy="754.4" r="7.3"/><circle cx="794.3" cy="755.4" r="7.3"/><circle cx="796.1" cy="754.5" r="7.3"/><circle cx="798.1" cy="757.1" r="7.3"/><circle cx="798.8" cy="757.9" r="7.3"/><circle cx="807.4" cy="765.8" r="7.3"/><circle cx="806.0" cy="764.1" r="7.3"/><circle cx="806.4" cy="764.5" r="7.3"/><circle cx="798.0" cy="750.5" r="7.3"/><circle cx="798.2" cy="750.6" r="7.3"/><circle cx="806.2" cy="761.1" r="7.3"/><circle cx="810.2" cy="762.9" r="7.3"/><circle cx="805.0" cy="756.2" r="7.3"/><circle cx="806.4" cy="758.0" r="7.3"/><circle cx="800.4" cy="747.0" r="7.3"/><circle cx="805.4" cy="753.5" r="7.3"/><circle cx="812.3" cy="762.3" r="7.3"/><circle cx="812.7" cy="759.6" r="7.3"/><circle cx="813.1" cy="760.1" r="7.3"/><circle cx="814.6" cy="762.1" r="7.3"/><circle cx="806.5" cy="748.3" r="7.3"/><circle cx="804.5" cy="745.8" r="7.3"/><circle cx="805.2" cy="746.6" r="7.3"/><circle cx="811.7" cy="751.8" r="7.3"/><circle cx="813.9" cy="754.7" r="7.3"/><circle cx="817.6" cy="759.4" r="7.3"/><circle cx="816.0" cy="754.1" r="7.3"/><circle cx="814.9" cy="752.7" r="7.3"/><circle cx="816.6" cy="754.9" r="7.3"/><circle cx="813.7" cy="747.9" r="7.3"/><circle cx="815.1" cy="749.6" r="7.3"/><circle cx="807.8" cy="740.2" r="7.3"/><circle cx="819.9" cy="752.6" r="7.3"/><circle cx="812.0" cy="742.4" r="7.3"/><circle cx="821.9" cy="755.1" r="7.3"/><circle cx="819.4" cy="748.7" r="7.3"/><circle cx="814.5" cy="742.3" r="7.3"/><circle cx="811.9" cy="739.0" r="7.3"/><circle cx="815.0" cy="739.7" r="7.3"/><circle cx="820.6" cy="746.9" r="7.3"/><circle cx="821.5" cy="748.1" r="7.3"/><circle cx="813.9" cy="735.1" r="7.3"/><circle cx="813.3" cy="734.3" r="7.3"/><circle cx="819.8" cy="742.6" r="7.3"/><circle cx="821.4" cy="741.5" r="7.3"/><circle cx="818.7" cy="738.0" r="7.3"/><circle cx="816.4" cy="735.0" r="7.3"/><circle cx="822.5" cy="739.6" r="7.3"/><circle cx="814.5" cy="729.2" r="7.3"/><circle cx="818.4" cy="734.3" r="7.3"/><circle cx="821.9" cy="735.6" r="7.3"/><circle cx="828.8" cy="744.5" r="7.3"/><circle cx="824.5" cy="738.9" r="7.3"/><circle cx="830.4" cy="743.3" r="7.3"/><circle cx="824.1" cy="735.2" r="7.3"/><circle cx="820.5" cy="730.5" r="7.3"/><circle cx="822.4" cy="729.7" r="7.3"/><circle cx="834.2" cy="745.0" r="7.3"/><circle cx="830.0" cy="739.5" r="7.3"/><circle cx="825.2" cy="730.1" r="7.3"/><circle cx="820.1" cy="723.5" r="7.3"/><circle cx="828.7" cy="734.5" r="7.3"/><circle cx="834.1" cy="738.3" r="7.3"/><circle cx="829.2" cy="732.0" r="7.3"/><circle cx="826.1" cy="728.0" r="7.3"/><circle cx="836.3" cy="737.8" r="7.3"/><circle cx="840.9" cy="743.9" r="7.3"/><circle cx="828.3" cy="727.5" r="7.3"/><circle cx="828.1" cy="724.0" r="7.3"/><circle cx="833.0" cy="730.3" r="7.3"/><circle cx="834.4" cy="732.1" r="7.3"/><circle cx="840.4" cy="736.6" r="7.3"/><circle cx="833.0" cy="727.1" r="7.3"/><circle cx="842.1" cy="738.8" r="7.3"/><circle cx="842.6" cy="736.2" r="7.3"/><circle cx="839.1" cy="731.7" r="7.3"/><circle cx="834.6" cy="725.8" r="7.3"/><circle cx="847.5" cy="739.3" r="7.3"/><circle cx="837.6" cy="726.5" r="7.3"/><circle cx="845.3" cy="736.4" r="7.3"/><circle cx="837.8" cy="723.4" r="7.3"/><circle cx="837.6" cy="723.2" r="7.3"/><circle cx="845.7" cy="733.7" r="7.3"/><circle cx="840.2" cy="723.4" r="7.3"/><circle cx="849.9" cy="735.8" r="7.3"/><circle cx="843.2" cy="727.2" r="7.3"/><circle cx="840.2" cy="720.1" r="7.3"/><circle cx="840.7" cy="720.7" r="7.3"/><circle cx="843.5" cy="724.3" r="7.3"/><circle cx="848.5" cy="727.5" r="7.3"/><circle cx="852.5" cy="732.7" r="7.3"/><circle cx="841.2" cy="718.1" r="7.3"/><circle cx="846.2" cy="721.3" r="7.3"/><circle cx="843.7" cy="718.1" r="7.3"/><circle cx="854.2" cy="731.6" r="7.3"/><circle cx="844.5" cy="715.9" r="7.3"/><circle cx="843.3" cy="714.3" r="7.3"/><circle cx="843.4" cy="714.4" r="7.3"/><circle cx="849.8" cy="719.4" r="7.3"/><circle cx="856.8" cy="728.4" r="7.3"/><circle cx="856.6" cy="728.2" r="7.3"/><circle cx="856.3" cy="724.5" r="7.3"/><circle cx="860.0" cy="729.2" r="7.3"/><circle cx="859.0" cy="728.1" r="7.3"/><circle cx="852.4" cy="716.2" r="7.3"/><circle cx="850.5" cy="713.7" r="7.3"/><circle cx="860.7" cy="726.9" r="7.3"/><circle cx="859.5" cy="722.2" r="7.3"/><circle cx="849.6" cy="709.4" r="7.3"/><circle cx="858.4" cy="720.7" r="7.3"/><circle cx="855.8" cy="714.0" r="7.3"/><circle cx="855.7" cy="713.9" r="7.3"/><circle cx="855.1" cy="713.2" r="7.3"/><circle cx="854.1" cy="708.6" r="7.3"/><circle cx="851.7" cy="705.5" r="7.3"/><circle cx="855.7" cy="710.7" r="7.3"/><circle cx="858.1" cy="710.5" r="7.3"/><circle cx="867.0" cy="722.0" r="7.3"/><circle cx="854.7" cy="706.1" r="7.3"/><circle cx="868.6" cy="720.8" r="7.3"/><circle cx="857.5" cy="706.5" r="7.3"/><circle cx="859.7" cy="709.3" r="7.3"/><circle cx="868.0" cy="716.7" r="7.3"/><circle cx="868.0" cy="716.7" r="7.3"/><circle cx="862.4" cy="709.6" r="7.3"/><circle cx="858.7" cy="701.4" r="7.3"/><circle cx="864.6" cy="709.1" r="7.3"/><circle cx="863.2" cy="707.3" r="7.3"/><circle cx="872.3" cy="715.8" r="7.3"/><circle cx="862.3" cy="702.9" r="7.3"/><circle cx="864.7" cy="705.9" r="7.3"/><circle cx="873.5" cy="714.1" r="7.3"/><circle cx="861.1" cy="698.1" r="7.3"/><circle cx="866.6" cy="705.1" r="7.3"/><circle cx="873.7" cy="711.1" r="7.3"/><circle cx="873.1" cy="710.3" r="7.3"/><circle cx="862.3" cy="696.4" r="7.3"/><circle cx="863.3" cy="694.4" r="7.3"/><circle cx="863.7" cy="694.9" r="7.3"/><circle cx="876.9" cy="711.9" r="7.3"/><circle cx="867.9" cy="697.0" r="7.3"/><circle cx="875.6" cy="707.0" r="7.3"/><circle cx="877.9" cy="710.0" r="7.3"/><circle cx="870.0" cy="696.5" r="7.3"/><circle cx="869.0" cy="695.2" r="7.3"/><circle cx="879.4" cy="708.7" r="7.3"/><circle cx="875.0" cy="699.7" r="7.3"/><circle cx="869.8" cy="693.0" r="7.3"/><circle cx="876.4" cy="701.5" r="7.3"/><circle cx="871.7" cy="692.1" r="7.3"/><circle cx="871.1" cy="691.3" r="7.3"/><circle cx="867.1" cy="686.2" r="7.3"/><circle cx="879.4" cy="698.8" r="7.3"/><circle cx="881.8" cy="701.9" r="7.3"/><circle cx="877.6" cy="696.5" r="7.3"/><circle cx="883.6" cy="701.0" r="7.3"/><circle cx="869.9" cy="683.3" r="7.3"/><circle cx="873.0" cy="687.3" r="7.3"/><circle cx="878.3" cy="690.8" r="7.3"/><circle cx="885.3" cy="699.9" r="7.3"/><circle cx="885.2" cy="699.8" r="7.3"/><circle cx="878.6" cy="688.1" r="7.3"/><circle cx="876.7" cy="685.6" r="7.3"/><circle cx="879.2" cy="688.9" r="7.3"/><circle cx="883.0" cy="690.5" r="7.3"/><circle cx="890.2" cy="699.7" r="7.3"/><circle cx="878.0" cy="683.9" r="7.3"/><circle cx="889.6" cy="695.8" r="7.3"/><circle cx="888.6" cy="694.4" r="7.3"/><circle cx="890.0" cy="696.2" r="7.3"/><circle cx="890.7" cy="693.8" r="7.3"/><circle cx="888.1" cy="690.5" r="7.3"/><circle cx="883.6" cy="684.7" r="7.3"/><circle cx="885.1" cy="683.3" r="7.3"/><circle cx="885.8" cy="684.2" r="7.3"/><circle cx="892.4" cy="692.7" r="7.3"/><circle cx="882.9" cy="677.3" r="7.3"/><circle cx="884.8" cy="679.7" r="7.3"/><circle cx="893.4" cy="690.9" r="7.3"/><circle cx="887.4" cy="679.8" r="7.3"/><circle cx="884.7" cy="676.3" r="7.3"/><circle cx="884.3" cy="675.7" r="7.3"/><circle cx="894.9" cy="686.2" r="7.3"/><circle cx="892.6" cy="683.2" r="7.3"/><circle cx="899.3" cy="691.8" r="7.3"/><circle cx="899.4" cy="688.8" r="7.3"/><circle cx="900.3" cy="690.0" r="7.3"/><circle cx="893.9" cy="681.6" r="7.3"/><circle cx="894.1" cy="678.7" r="7.3"/><circle cx="894.2" cy="678.8" r="7.3"/><circle cx="897.4" cy="682.9" r="7.3"/><circle cx="901.8" cy="685.4" r="7.3"/><circle cx="899.4" cy="682.3" r="7.3"/><circle cx="897.5" cy="679.8" r="7.3"/><circle cx="901.8" cy="682.1" r="7.3"/><circle cx="904.1" cy="685.1" r="7.3"/><circle cx="904.7" cy="685.9" r="7.3"/><circle cx="907.1" cy="685.7" r="7.3"/><circle cx="908.2" cy="687.1" r="7.3"/><circle cx="906.2" cy="684.4" r="7.3"/><circle cx="901.7" cy="675.4" r="7.3"/><circle cx="909.7" cy="685.7" r="7.3"/><circle cx="903.6" cy="677.8" r="7.3"/><circle cx="908.1" cy="680.4" r="7.3"/><circle cx="905.9" cy="677.6" r="7.3"/><circle cx="910.0" cy="682.9" r="7.3"/><circle cx="905.3" cy="673.5" r="7.3"/><circle cx="905.8" cy="674.2" r="7.3"/><circle cx="905.8" cy="674.2" r="7.3"/><circle cx="905.7" cy="670.7" r="7.3"/><circle cx="912.8" cy="680.0" r="7.3"/><circle cx="909.8" cy="676.1" r="7.3"/><circle cx="907.7" cy="670.0" r="7.3"/><circle cx="908.2" cy="670.7" r="7.3"/><circle cx="912.4" cy="676.2" r="7.3"/><circle cx="911.1" cy="671.2" r="7.3"/><circle cx="908.6" cy="668.0" r="7.3"/><circle cx="913.8" cy="674.7" r="7.3"/><circle cx="915.2" cy="673.3" r="7.3"/><circle cx="918.9" cy="678.0" r="7.3"/><circle cx="909.3" cy="665.6" r="7.3"/><circle cx="915.0" cy="669.7" r="7.3"/><circle cx="918.6" cy="674.4" r="7.3"/><circle cx="918.8" cy="674.7" r="7.3"/><circle cx="921.2" cy="674.4" r="7.3"/><circle cx="912.2" cy="662.9" r="7.3"/><circle cx="914.8" cy="666.2" r="7.3"/><circle cx="914.8" cy="663.0" r="7.3"/><circle cx="915.5" cy="663.9" r="7.3"/><circle cx="923.3" cy="674.0" r="7.3"/><circle cx="921.1" cy="667.8" r="7.3"/><circle cx="924.4" cy="672.1" r="7.3"/><circle cx="919.0" cy="665.1" r="7.3"/><circle cx="925.4" cy="670.1" r="7.3"/><circle cx="921.4" cy="665.0" r="7.3"/><circle cx="919.6" cy="662.6" r="7.3"/><circle cx="925.9" cy="667.5" r="7.3"/><circle cx="927.4" cy="669.5" r="7.3"/><circle cx="919.8" cy="659.6" r="7.3"/><circle cx="925.7" cy="664.0" r="7.3"/><circle cx="925.9" cy="664.2" r="7.3"/><circle cx="922.4" cy="659.8" r="7.3"/><circle cx="924.9" cy="659.7" r="7.3"/><circle cx="922.9" cy="657.1" r="7.3"/><circle cx="923.5" cy="657.8" r="7.3"/><circle cx="924.9" cy="656.4" r="7.3"/><circle cx="928.1" cy="660.6" r="7.3"/><circle cx="928.6" cy="661.2" r="7.3"/><circle cx="925.3" cy="653.7" r="7.3"/><circle cx="923.3" cy="651.1" r="7.3"/><circle cx="926.6" cy="655.3" r="7.3"/><circle cx="931.5" cy="658.4" r="7.3"/><circle cx="926.1" cy="651.4" r="7.3"/><circle cx="927.5" cy="653.2" r="7.3"/><circle cx="927.7" cy="650.2" r="7.3"/><circle cx="934.3" cy="658.8" r="7.3"/><circle cx="931.5" cy="655.2" r="7.3"/><circle cx="927.5" cy="646.7" r="7.3"/><circle cx="927.9" cy="647.2" r="7.3"/><circle cx="931.1" cy="651.3" r="7.3"/><circle cx="933.7" cy="651.4" r="7.3"/><circle cx="934.6" cy="652.6" r="7.3"/><circle cx="929.0" cy="645.4" r="7.3"/><circle cx="931.4" cy="645.2" r="7.3"/><circle cx="936.8" cy="652.1" r="7.3"/><circle cx="933.9" cy="648.4" r="7.3"/><circle cx="934.9" cy="646.5" r="7.3"/><circle cx="935.2" cy="646.8" r="7.3"/><circle cx="942.2" cy="655.9" r="7.3"/><circle cx="937.6" cy="646.6" r="7.3"/><circle cx="940.5" cy="650.5" r="7.3"/><circle cx="938.1" cy="647.3" r="7.3"/><circle cx="941.1" cy="647.9" r="7.3"/><circle cx="946.5" cy="654.9" r="7.3"/><circle cx="948.1" cy="657.0" r="7.3"/><circle cx="942.2" cy="646.1" r="7.3"/><circle cx="940.1" cy="643.4" r="7.3"/><circle cx="946.6" cy="651.8" r="7.3"/><circle cx="941.7" cy="642.1" r="7.3"/><circle cx="939.2" cy="638.9" r="7.3"/><circle cx="950.4" cy="653.4" r="7.3"/><circle cx="945.9" cy="644.4" r="7.3"/><circle cx="951.1" cy="651.0" r="7.3"/><circle cx="945.7" cy="644.1" r="7.3"/><circle cx="953.6" cy="651.0" r="7.3"/><circle cx="948.0" cy="643.8" r="7.3"/><circle cx="944.0" cy="638.6" r="7.3"/><circle cx="943.4" cy="634.6" r="7.3"/><circle cx="950.8" cy="644.1" r="7.3"/><circle cx="952.0" cy="645.7" r="7.3"/><circle cx="956.9" cy="648.7" r="7.3"/><circle cx="947.4" cy="636.5" r="7.3"/><circle cx="953.5" cy="644.4" r="7.3"/><circle cx="953.4" cy="640.9" r="7.3"/><circle cx="954.5" cy="642.5" r="7.3"/><circle cx="951.4" cy="638.4" r="7.3"/><circle cx="954.5" cy="639.1" r="7.3"/><circle cx="956.3" cy="641.4" r="7.3"/><circle cx="959.3" cy="645.3" r="7.3"/><circle cx="954.5" cy="635.9" r="7.3"/><circle cx="957.2" cy="639.4" r="7.3"/><circle cx="959.5" cy="642.3" r="7.3"/><circle cx="961.6" cy="641.8" r="7.3"/><circle cx="956.5" cy="635.2" r="7.3"/><circle cx="956.0" cy="634.6" r="7.3"/><circle cx="962.5" cy="639.7" r="7.3"/><circle cx="962.7" cy="639.9" r="7.3"/><circle cx="959.6" cy="636.0" r="7.3"/><circle cx="958.4" cy="631.1" r="7.3"/><circle cx="963.7" cy="638.0" r="7.3"/><circle cx="960.4" cy="633.7" r="7.3"/><circle cx="965.3" cy="636.8" r="7.3"/><circle cx="963.5" cy="634.4" r="7.3"/><circle cx="964.8" cy="636.2" r="7.3"/><circle cx="962.0" cy="629.2" r="7.3"/><circle cx="966.3" cy="634.8" r="7.3"/><circle cx="962.4" cy="629.8" r="7.3"/><circle cx="965.3" cy="630.2" r="7.3"/><circle cx="968.5" cy="634.4" r="7.3"/><circle cx="968.4" cy="634.2" r="7.3"/><circle cx="965.1" cy="626.8" r="7.3"/><circle cx="965.4" cy="627.1" r="7.3"/><circle cx="966.8" cy="628.9" r="7.3"/><circle cx="969.4" cy="629.0" r="7.3"/><circle cx="968.4" cy="627.7" r="7.3"/><circle cx="966.3" cy="625.1" r="7.3"/><circle cx="969.2" cy="625.5" r="7.3"/><circle cx="972.8" cy="630.1" r="7.3"/><circle cx="974.1" cy="631.8" r="7.3"/><circle cx="969.6" cy="622.7" r="7.3"/><circle cx="973.3" cy="627.6" r="7.3"/><circle cx="974.7" cy="629.4" r="7.3"/><circle cx="973.1" cy="624.0" r="7.3"/><circle cx="977.2" cy="629.3" r="7.3"/><circle cx="973.5" cy="624.5" r="7.3"/><circle cx="977.9" cy="626.9" r="7.3"/><circle cx="977.7" cy="626.7" r="7.3"/><circle cx="978.0" cy="627.1" r="7.3"/><circle cx="978.2" cy="624.1" r="7.3"/><circle cx="978.7" cy="624.7" r="7.3"/><circle cx="979.4" cy="625.6" r="7.3"/><circle cx="980.2" cy="623.4" r="7.3"/><circle cx="981.3" cy="624.7" r="7.3"/><circle cx="980.3" cy="623.5" r="7.3"/><circle cx="981.5" cy="621.7" r="7.3"/><circle cx="979.3" cy="618.9" r="7.3"/><circle cx="982.4" cy="622.9" r="7.3"/><circle cx="983.0" cy="620.4" r="7.3"/><circle cx="981.5" cy="618.5" r="7.3"/><circle cx="984.6" cy="622.5" r="7.3"/><circle cx="986.2" cy="621.3" r="7.3"/><circle cx="984.2" cy="618.7" r="7.3"/><circle cx="982.4" cy="616.4" r="7.3"/><circle cx="985.7" cy="617.4" r="7.3"/><circle cx="983.3" cy="614.3" r="7.3"/><circle cx="983.4" cy="614.5" r="7.3"/><circle cx="986.8" cy="615.6" r="7.3"/><circle cx="984.5" cy="612.6" r="7.3"/><circle cx="986.9" cy="615.7" r="7.3"/></g>
<text transform="translate(0,168.70) scale(1.0000,1.0048)" x="1124.50 1152.99 1184.30" y="0" font-size="60" font-style="italic" fill="#000">abs</text>
<text transform="translate(0,177.70) scale(1.0800,1.0000)" x="1121.96 1140.21 1156.53" y="0" font-size="42" font-style="italic" fill="#000">sim</text>
<text transform="translate(0,168.70) scale(1.1000,1.0000)" x="1167.83 1197.31" y="0" font-size="60" font-style="italic" fill="#000">vs</text>
<text transform="translate(1344.67,168.70) scale(1.0972,1.0000)" font-size="60" font-style="italic" fill="#000">.</text>
<text transform="translate(0,168.70) scale(1.0000,1.0048)" x="1360.60 1389.40 1421.00" y="0" font-size="60" font-style="italic" fill="#000">abs</text>
<text transform="translate(0,178.00) scale(1.0800,0.9834)" x="1338.34 1370.56 1389.45 1411.65 1429.35 1451.42 1469.18 1487.06" y="0" font-size="42" font-style="italic" fill="#000">measured</text>
<text transform="translate(0,244.70) scale(1.0800,0.9929)" x="1043.01 1070.06 1089.20 1109.99 1131.53 1152.90 1184.67" y="0" font-size="60" font-style="italic" fill="#000">fitting</text>
<text transform="translate(1325.41,250.10) scale(1.3297,1.0000)" font-size="60" fill="#000">−</text>
<text transform="translate(0,244.70) scale(1.0800,1.0000)" x="1283.01 1309.57 1340.68 1365.91 1392.76" y="0" font-size="60" font-style="italic" fill="#000">curve</text>
<line x1="414.1" y1="1058.6" x2="1628.1" y2="117.7" stroke="#ff0000" stroke-width="4.4"/>
<rect x="250.5" y="52.5" width="1465.0" height="1131.0" fill="none" stroke="#262626" stroke-width="4.5"/>
<g stroke="#262626" stroke-width="4.6"><line x1="616.5" y1="1183.5" x2="616.5" y2="1166.9"/><line x1="616.5" y1="52.5" x2="616.5" y2="69.1"/><line x1="983.5" y1="1183.5" x2="983.5" y2="1166.9"/><line x1="983.5" y1="52.5" x2="983.5" y2="69.1"/><line x1="1349.5" y1="1183.5" x2="1349.5" y2="1166.9"/><line x1="1349.5" y1="52.5" x2="1349.5" y2="69.1"/><line x1="250.5" y1="1042.5" x2="267.1" y2="1042.5"/><line x1="1715.5" y1="1042.5" x2="1698.9" y2="1042.5"/><line x1="250.5" y1="901.5" x2="267.1" y2="901.5"/><line x1="1715.5" y1="901.5" x2="1698.9" y2="901.5"/><line x1="250.5" y1="759.5" x2="267.1" y2="759.5"/><line x1="1715.5" y1="759.5" x2="1698.9" y2="759.5"/><line x1="250.5" y1="618.5" x2="267.1" y2="618.5"/><line x1="1715.5" y1="618.5" x2="1698.9" y2="618.5"/><line x1="250.5" y1="476.5" x2="267.1" y2="476.5"/><line x1="1715.5" y1="476.5" x2="1698.9" y2="476.5"/><line x1="250.5" y1="335.5" x2="267.1" y2="335.5"/><line x1="1715.5" y1="335.5" x2="1698.9" y2="335.5"/><line x1="250.5" y1="193.5" x2="267.1" y2="193.5"/><line x1="1715.5" y1="193.5" x2="1698.9" y2="193.5"/></g>
<circle cx="980.5" cy="155.4" r="7.3" fill="#0000ff"/>
<line x1="854.5" y1="230.4" x2="1105.6" y2="230.4" stroke="#ff0000" stroke-width="4.4"/>
<text transform="translate(204.90,1200.70) scale(1.0057,1.0167)" font-size="67" fill="#262626">0</text>
<text transform="translate(118.51,1058.33) scale(1.0393,1.0167)" font-size="67" fill="#262626">0.01</text>
<text transform="translate(118.52,916.95) scale(1.0362,1.0167)" font-size="67" fill="#262626">0.02</text>
<text transform="translate(118.55,775.58) scale(1.0269,1.0167)" font-size="67" fill="#262626">0.03</text>
<text transform="translate(118.59,634.20) scale(1.0118,1.0167)" font-size="67" fill="#262626">0.04</text>
<text transform="translate(118.55,492.82) scale(1.0269,1.0167)" font-size="67" fill="#262626">0.05</text>
<text transform="translate(118.56,351.45) scale(1.0208,1.0167)" font-size="67" fill="#262626">0.06</text>
<text transform="translate(118.56,210.07) scale(1.0208,1.0167)" font-size="67" fill="#262626">0.07</text>
<text transform="translate(118.55,68.70) scale(1.0269,1.0167)" font-size="67" fill="#262626">0.08</text>
<text transform="translate(234.11,1253.70) scale(1.0021,1.0235)" font-size="67" fill="#262626">0</text>
<text transform="translate(557.20,1253.70) scale(1.0245,1.0235)" font-size="67" fill="#262626">0.02</text>
<text transform="translate(923.52,1253.70) scale(1.0003,1.0235)" font-size="67" fill="#262626">0.04</text>
<text transform="translate(1289.75,1253.70) scale(1.0092,1.0235)" font-size="67" fill="#262626">0.06</text>
<text transform="translate(1655.98,1253.70) scale(1.0153,1.0235)" font-size="67" fill="#262626">0.08</text>
<text transform="translate(0,1339.30) scale(1.0000,1.0125)" x="700.71 735.70 774.12" y="0" font-size="73" font-style="italic" fill="#262626">abs</text>
<text transform="translate(0,1350.30) scale(1.0800,1.0060)" x="746.18 785.53 808.64 835.77 857.45 884.42 906.15 928.02" y="0" font-size="51" font-style="italic" fill="#262626">measured</text>
<text transform="translate(1037.34,1340.27) scale(0.9616,1.1111)" font-size="73" fill="#262626">(</text>
<text transform="translate(0,1339.30) scale(1.1500,1.0125)" x="924.68 963.23" y="0" font-size="73" font-style="italic" fill="#262626">km</text>
<text transform="translate(1168.70,1315.30) scale(1.2566,1.0000)" font-size="51" fill="#262626">−</text>
<text transform="translate(1207.66,1311.80) scale(0.9244,1.0118)" font-size="51" fill="#262626">1</text>
<text transform="translate(1238.81,1340.27) scale(0.9536,1.1111)" font-size="73" fill="#262626">)</text>
<text transform="translate(85.7,827.6) rotate(-90) translate(0,0.00) scale(1.0000,1.0125)" x="-2.19 32.65 70.92" y="0" font-size="73" font-style="italic" fill="#262626">abs</text>
<text transform="translate(85.7,827.6) rotate(-90) translate(0,11.40) scale(1.0800,1.0000)" x="94.14 116.75 137.26" y="0" font-size="51" font-style="italic" fill="#262626">sim</text>
<text transform="translate(85.7,827.6) rotate(-90) translate(195.66,0.43) scale(0.9562,1.1202)" font-size="73" fill="#262626">(</text>
<text transform="translate(85.7,827.6) rotate(-90) translate(0,0.00) scale(1.1500,1.0125)" x="192.94 230.79" y="0" font-size="73" font-style="italic" fill="#262626">km</text>
<text transform="translate(85.7,827.6) rotate(-90) translate(326.20,-23.90) scale(1.2945,1.0000)" font-size="51" fill="#262626">−</text>
<text transform="translate(85.7,827.6) rotate(-90) translate(364.40,-27.50) scale(0.9804,1.0118)" font-size="51" fill="#262626">1</text>
<text transform="translate(85.7,827.6) rotate(-90) translate(396.68,0.43) scale(0.9220,1.1202)" font-size="73" fill="#262626">)</text>
</svg>
</body></html>
